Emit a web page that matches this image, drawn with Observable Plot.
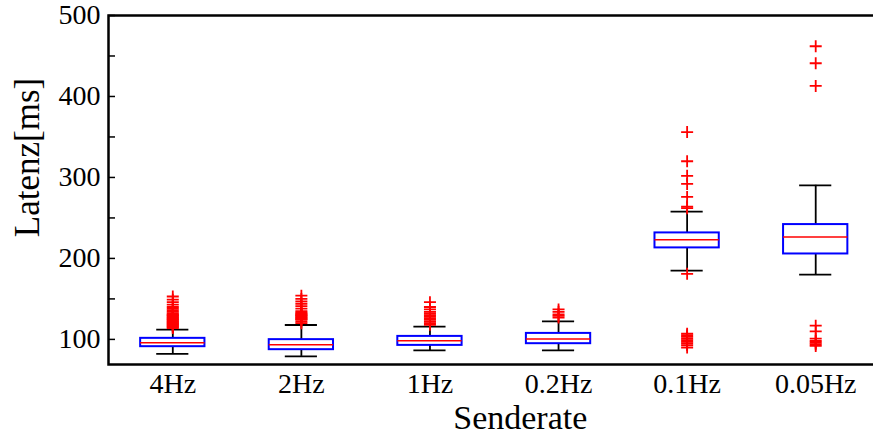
<!DOCTYPE html>
<html>
<head>
<meta charset="utf-8">
<script src="https://cdn.jsdelivr.net/npm/d3@7"></script>
<script src="https://cdn.jsdelivr.net/npm/@observablehq/plot@0.6"></script>
<style>
  html, body { margin: 0; padding: 0; background: #fff; overflow: hidden; }
  #chart svg { display: block; overflow: hidden; }
</style>
</head>
<body>
<div id="chart"></div>
<script>
// ---- data ----
const categories = ["4Hz", "2Hz", "1Hz", "0.2Hz", "0.1Hz", "0.05Hz"];
const q1 = [91, 87.3, 92.6, 94.7, 213, 205.5];
const median = [96, 93.5, 98.4, 100.5, 223.2, 226.5];
const q3 = [101.3, 99.7, 103.7, 107.4, 231.5, 241.8];
const whiskerLow = [82, 79, 86.4, 86.4, 185, 180];
const whiskerHigh = [112, 117.8, 115.7, 122.3, 257.8, 290.3];
const outliers = [
  [114, 115, 116, 117, 118, 119, 120, 121, 122, 123, 124, 125, 126, 127, 128, 129, 130, 131, 132, 134, 136, 138, 140, 143, 146, 149, 153],
  [120, 122, 124, 125, 126, 127, 128, 129, 130, 131, 132, 133, 135, 138, 141, 144, 147, 150, 154],
  [118, 120, 122, 124, 126, 128, 130, 132, 134, 137, 140, 146],
  [127, 129, 131, 134, 137],
  [90, 93, 95, 97, 99, 101, 103, 105, 107, 181, 262, 264, 276, 292, 302, 320, 356],
  [92, 94, 96, 98, 101, 110, 117, 413, 441, 462]
];
const yLabelTicks = [100, 200, 300, 400, 500];
const yMinorTicks = [100, 150, 200, 250, 300, 350, 400, 450, 500];
const xLabel = "Senderate";
const yLabel = "Latenz[ms]";

// ---- tables built from the arrays ----
const boxes = categories.map((c, i) => ({
  pos: i + 1, cat: c, q1: q1[i], med: median[i], q3: q3[i],
  lo: whiskerLow[i], hi: whiskerHigh[i]
}));
const outlierRows = outliers.flatMap((arr, i) => arr.map(v => ({pos: i + 1, value: v})));

const boxHalf = 0.25;
const capHalf = 0.125;
const font = "'Liberation Serif', 'Times New Roman', serif";

const chart = Plot.plot({
  width: 873,
  height: 435,
  marginLeft: 108,
  marginRight: -6.5,
  marginTop: 15,
  marginBottom: 71,
  style: {fontFamily: font, background: "#fff", color: "#000"},
  x: {type: "linear", domain: [0.5, 6.5], axis: null},
  y: {domain: [69, 500], axis: null},
  marks: [
    // whiskers
    Plot.ruleX(boxes, {x: "pos", y1: "q3", y2: "hi", stroke: "#000", strokeWidth: 1.8}),
    Plot.ruleX(boxes, {x: "pos", y1: "lo", y2: "q1", stroke: "#000", strokeWidth: 1.8}),
    Plot.ruleY(boxes, {y: "hi", x1: d => d.pos - capHalf, x2: d => d.pos + capHalf, stroke: "#000", strokeWidth: 1.8}),
    Plot.ruleY(boxes, {y: "lo", x1: d => d.pos - capHalf, x2: d => d.pos + capHalf, stroke: "#000", strokeWidth: 1.8}),
    // boxes
    Plot.rect(boxes, {x1: d => d.pos - boxHalf, x2: d => d.pos + boxHalf, y1: "q1", y2: "q3", fill: "none", stroke: "#0000ff", strokeWidth: 2}),
    // medians
    Plot.ruleY(boxes, {y: "med", x1: d => d.pos - boxHalf, x2: d => d.pos + boxHalf, stroke: "#ff0000", strokeWidth: 1.5}),
    // outliers
    Plot.dot(outlierRows, {x: "pos", y: "value", symbol: "plus", r: 3.95, stroke: "#ff0000", strokeWidth: 1.8}),
    // axes
    Plot.axisY({anchor: "left", ticks: yMinorTicks, tickSize: -7, tickFormat: () => "", label: null, strokeWidth: 1.5}),
    Plot.axisY({anchor: "right", ticks: yMinorTicks, tickSize: -7, tickFormat: () => "", label: null, strokeWidth: 1.5}),
    Plot.axisY({anchor: "left", ticks: yLabelTicks, tickSize: 0, tickPadding: 8, fontSize: 28, label: null}),
    Plot.axisX({anchor: "bottom", ticks: [1, 2, 3, 4, 5, 6], tickFormat: i => categories[i - 1], tickSize: 0, tickPadding: 9, fontSize: 28, label: null}),
    Plot.frame({stroke: "#000", strokeWidth: 2.5}),
    // axis titles
    Plot.text([xLabel], {text: d => d, frameAnchor: "bottom", textAnchor: "middle", lineAnchor: "top", dx: 26, dy: 40, fontSize: 34}),
    Plot.text([yLabel], {text: d => d, frameAnchor: "left", textAnchor: "middle", lineAnchor: "middle", rotate: -90, dx: -81, dy: -32.5, fontSize: 35})
  ]
});
document.getElementById("chart").appendChild(chart);
</script>
</body>
</html>
